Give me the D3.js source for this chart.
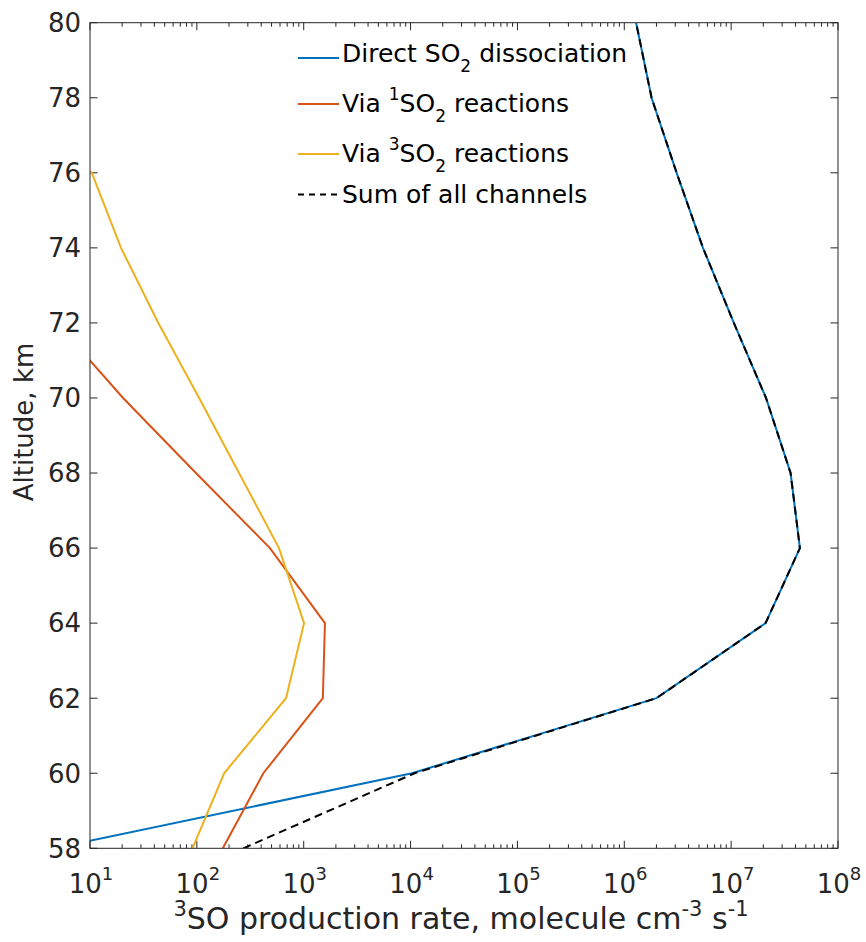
<!DOCTYPE html>
<html>
<head>
<meta charset="utf-8">
<script src="https://cdn.jsdelivr.net/npm/d3@7/dist/d3.min.js"></script>
<style>
  body { margin: 0; background: #fff; }
  svg { display: block; font-family: "DejaVu Sans", sans-serif; }
</style>
</head>
<body>
<svg id="chart" width="866" height="942"></svg>
<script>
// Altitude grid (km) and 3SO production rates (molecule cm^-3 s^-1) per channel
const altitudes = [58, 60, 62, 64, 66, 68, 70, 72, 74, 76, 78, 80];
const directSO2 = [4.6, 1.03e4, 2.0e6, 2.1e7, 4.4e7, 3.6e7, 2.12e7, 1.06e7, 5.45e6, 3.09e6, 1.80e6, 1.29e6];
const via1SO2   = [175, 419, 1510, 1580, 483, 98, 20.4, 4.9, 1.0, 0.3, 0.1, 0.05];
const via3SO2   = [91, 180, 683, 1007, 587, 248, 105, 43.6, 19.5, 10.4, 1.2, 0.3];
const sumAll    = [272, 1.09e4, 2.0e6, 2.1e7, 4.4e7, 3.6e7, 2.12e7, 1.06e7, 5.45e6, 3.09e6, 1.80e6, 1.29e6];

const xTickExps = [1, 2, 3, 4, 5, 6, 7, 8];
const yTicks = [58, 60, 62, 64, 66, 68, 70, 72, 74, 76, 78, 80];

const series = [
  { name: "direct", values: directSO2, color: "#0072BD", dash: null },
  { name: "via1",   values: via1SO2,   color: "#D95319", dash: null },
  { name: "via3",   values: via3SO2,   color: "#EDB120", dash: null },
  { name: "sum",    values: sumAll,    color: "#000000", dash: "8,5" }
];

const svg = d3.select("#chart");
const plotL = 90, plotR = 838, plotT = 22.7, plotB = 848.3;
const axisColor = "#262626";

const x = d3.scaleLog().domain([1e1, 1e8]).range([plotL, plotR]);
const y = d3.scaleLinear().domain([58, 80]).range([plotB, plotT]);

svg.append("defs").append("clipPath").attr("id", "plotClip")
  .append("rect").attr("x", plotL).attr("y", plotT)
  .attr("width", plotR - plotL).attr("height", plotB - plotT);

// Ticks (inward, on all four sides)
const tickG = svg.append("g").attr("stroke", axisColor).attr("stroke-width", 1);
const minorVals = [];
for (let e = 1; e < 8; e++) for (let m = 2; m <= 9; m++) minorVals.push(m * Math.pow(10, e));
minorVals.forEach(v => {
  const px = x(v);
  tickG.append("line").attr("x1", px).attr("x2", px).attr("y1", plotB).attr("y2", plotB - 4);
  tickG.append("line").attr("x1", px).attr("x2", px).attr("y1", plotT).attr("y2", plotT + 4);
});
xTickExps.forEach(e => {
  const px = x(Math.pow(10, e));
  tickG.append("line").attr("x1", px).attr("x2", px).attr("y1", plotB).attr("y2", plotB - 7.5);
  tickG.append("line").attr("x1", px).attr("x2", px).attr("y1", plotT).attr("y2", plotT + 7.5);
});
yTicks.forEach(t => {
  const py = y(t);
  tickG.append("line").attr("x1", plotL).attr("x2", plotL + 7.5).attr("y1", py).attr("y2", py);
  tickG.append("line").attr("x1", plotR).attr("x2", plotR - 7.5).attr("y1", py).attr("y2", py);
});

// Lines
const line = d3.line()
  .x(d => x(d.v))
  .y(d => y(d.a));

const linesG = svg.append("g").attr("clip-path", "url(#plotClip)");
series.forEach(s => {
  const pts = altitudes.map((a, i) => ({ a, v: s.values[i] }));
  linesG.append("path")
    .datum(pts)
    .attr("d", line)
    .attr("fill", "none")
    .attr("stroke", s.color)
    .attr("stroke-width", 2)
    .attr("stroke-dasharray", s.dash)
    .attr("stroke-linejoin", "miter");
});

// Box
svg.append("rect").attr("x", plotL).attr("y", plotT)
  .attr("width", plotR - plotL).attr("height", plotB - plotT)
  .attr("fill", "none").attr("stroke", axisColor).attr("stroke-width", 1);

// Y tick labels
svg.append("g").selectAll("text").data(yTicks).join("text")
  .attr("x", plotL - 9).attr("y", d => y(d)).attr("dy", "0.36em")
  .attr("text-anchor", "end").attr("font-size", 26).attr("fill", axisColor)
  .text(d => d);

// X tick labels: 10 with superscript exponent
const xl = svg.append("g").selectAll("text").data(xTickExps).join("text")
  .attr("x", d => x(Math.pow(10, d)) + 1).attr("y", 893)
  .attr("text-anchor", "middle").attr("font-size", 26).attr("fill", axisColor);
xl.append("tspan").text("10");
xl.append("tspan").attr("font-size", 18).attr("dy", -13).text(d => d);

// Axis titles
svg.append("text")
  .attr("transform", "translate(33,422) rotate(-90)")
  .attr("text-anchor", "middle").attr("font-size", 26).attr("fill", axisColor)
  .text("Altitude, km");

const xt = svg.append("text").attr("x", (plotL + plotR) / 2 - 3).attr("y", 929)
  .attr("text-anchor", "middle").attr("font-size", 30).attr("fill", axisColor);
xt.append("tspan").attr("font-size", 21).attr("dy", -13).text("3");
xt.append("tspan").attr("dy", 13).text("SO production rate, molecule cm");
xt.append("tspan").attr("font-size", 21).attr("dy", -13).text("-3");
xt.append("tspan").attr("dy", 13).text(" s");
xt.append("tspan").attr("font-size", 21).attr("dy", -13).text("-1");

// Legend
const legendRows = [
  { s: series[0], y: 58, base: 62, parts: [["Direct SO", 0], ["2", 1], [" dissociation", 0]] },
  { s: series[1], y: 104, base: 112, parts: [["Via ", 0], ["1", -1], ["SO", 0], ["2", 1], [" reactions", 0]] },
  { s: series[2], y: 154, base: 162, parts: [["Via ", 0], ["3", -1], ["SO", 0], ["2", 1], [" reactions", 0]] },
  { s: series[3], y: 194.5, base: 203, parts: [["Sum of all channels", 0]] }
];
const lg = svg.append("g");
legendRows.forEach(r => {
  lg.append("line").attr("x1", 298).attr("x2", 339).attr("y1", r.y).attr("y2", r.y)
    .attr("stroke", r.s.color).attr("stroke-width", 2)
    .attr("stroke-dasharray", r.s.dash ? "6,5" : null);
  const t = lg.append("text").attr("x", 342).attr("y", r.base)
    .attr("font-size", 25).attr("fill", "#000");
  let shift = 0;
  r.parts.forEach(([str, kind]) => {
    const target = kind === 1 ? 10 : kind === -1 ? -12 : 0;
    const sp = t.append("tspan").text(str).attr("dy", target - shift);
    if (kind !== 0) sp.attr("font-size", 17);
    shift = target;
  });
});
</script>
</body>
</html>
